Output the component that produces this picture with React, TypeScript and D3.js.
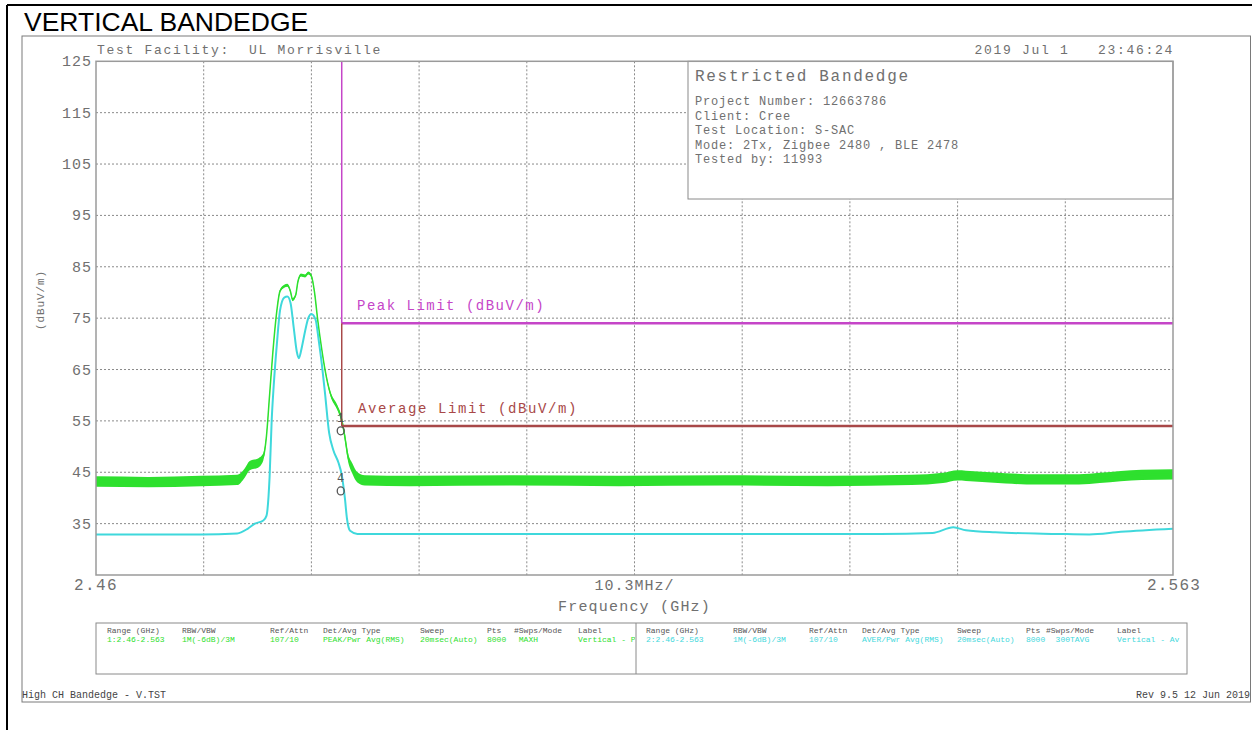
import React from "react";
import * as d3 from "d3";

// ---------- data ----------
const yTicks = [125, 115, 105, 95, 85, 75, 65, 55, 45, 35];
const freqStart = 2.46;
const freqStop = 2.563;
const xDivisions = 10;
const peakLimit = 74;
const avgLimit = 54;
const bandEdge = 2.4835;

// Trace 1 (peak, MAXH): frequency (GHz), level (dBuV/m), noise half-width (dB)
const peakFreqs = [
  2.46, 2.465, 2.47, 2.4735, 2.4742, 2.4747, 2.4755, 2.476, 2.4763, 2.4766, 2.4769,
  2.4773, 2.4776, 2.478, 2.4783, 2.4786, 2.4788, 2.4791, 2.4793, 2.4796, 2.48, 2.4803,
  2.4806, 2.4809, 2.4812, 2.4816, 2.4819, 2.4824, 2.4831, 2.4835, 2.4838, 2.4841, 2.4845,
  2.485, 2.4857, 2.49, 2.5, 2.51, 2.52, 2.53, 2.538, 2.541, 2.5424, 2.544, 2.547, 2.55,
  2.554, 2.556, 2.56, 2.563,
];
const peakLevels = [
  43.2, 43.1, 43.3, 43.5, 44.8, 46.3, 46.8, 48.0, 52.0, 60.0, 68.0,
  76.5, 80.3, 81.2, 81.4, 80.2, 78.6, 79.5, 82.0, 83.4, 83.2, 83.8,
  83.2, 80.0, 74.7, 68.8, 65.0, 60.4, 57.5, 55.2, 51.9, 48.0, 45.8,
  44.0, 43.4, 43.3, 43.4, 43.3, 43.4, 43.3, 43.5, 43.9, 44.4, 44.2, 43.8, 43.6,
  43.6, 43.9, 44.5, 44.6,
];
const peakSpread = [
  1.0, 1.0, 1.0, 1.0, 0.9, 0.9, 0.9, 0.7, 0.3, 0.2, 0.2,
  0.2, 0.3, 0.3, 0.3, 0.3, 0.3, 0.3, 0.3, 0.3, 0.3, 0.3,
  0.3, 0.3, 0.2, 0.2, 0.3, 0.4, 0.5, 0.6, 0.7, 0.8, 1.0,
  1.0, 1.0, 1.0, 1.0, 1.0, 1.0, 1.0, 1.0, 1.0, 1.0, 1.0, 1.0, 1.0,
  1.0, 1.0, 1.0, 1.0,
];

// Trace 2 (average, 300TAVG)
const avgFreqs = [
  2.46, 2.47, 2.4735, 2.4745, 2.4752, 2.476, 2.4763, 2.4766, 2.4768, 2.477, 2.4773,
  2.4776, 2.478, 2.4783, 2.4786, 2.4789, 2.4792, 2.4794, 2.4797, 2.48, 2.4803, 2.4806,
  2.481, 2.4813, 2.4816, 2.4819, 2.4823, 2.4827, 2.4832, 2.4835, 2.4838, 2.484, 2.4843,
  2.485, 2.5, 2.52, 2.535, 2.54, 2.542, 2.5432, 2.546, 2.552, 2.555, 2.558, 2.563,
];
const avgLevels = [
  32.9, 32.9, 33.1, 34.0, 35.0, 35.6, 36.5, 44.0, 55.0, 62.0, 70.0,
  76.5, 79.0, 79.2, 78.0, 73.3, 68.5, 67.2, 69.5, 72.5, 75.0, 75.8,
  74.7, 70.7, 66.0, 60.4, 52.6, 49.3, 46.8, 44.5, 40.0, 36.0, 33.6,
  33.0, 33.0, 33.0, 33.0, 33.2, 34.3, 33.7, 33.3, 33.0, 32.9, 33.4, 34.0,
];

const markerIds = ["1", "4"];

const infoTitle = "Restricted Bandedge";
const infoLines = [
  "Project Number: 12663786",
  "Client: Cree",
  "Test Location: S-SAC",
  "Mode: 2Tx, Zigbee 2480 , BLE 2478",
  "Tested by: 11993",
];

const legendHeaders = ["Range (GHz)", "RBW/VBW", "Ref/Attn", "Det/Avg Type", "Sweep", "Pts", "#Swps/Mode", "Label"];
const legendTrace1 = ["1:2.46-2.563", "1M(-6dB)/3M", "107/10", "PEAK/Pwr Avg(RMS)", "20msec(Auto)", "8000", " MAXH", "Vertical - P"];
const legendTrace2 = ["2:2.46-2.563", "1M(-6dB)/3M", "107/10", "AVER/Pwr Avg(RMS)", "20msec(Auto)", "8000", "  300TAVG", "Vertical - Av"];

// ---------- layout ----------
const W = 1252;
const H = 730;
const plot = { left: 96, right: 1173, top: 61.3, bottom: 575 };
const legendCols1 = [107, 182, 270, 323, 420, 487, 514, 578];
const legendCols2 = [646, 733, 809, 862, 957, 1026, 1046, 1117];

const GREEN = "#2ee02e";
const CYAN = "#3fd8dc";
const MAGENTA = "#c545c8";
const BROWN = "#a84848";
const TXT = "#707070";
const MONO = "'Liberation Mono', 'DejaVu Sans Mono', monospace";

export default function App() {
  const x = d3.scaleLinear().domain([freqStart, freqStop]).range([plot.left, plot.right]);
  const y = d3.scaleLinear().domain([25, 125]).range([plot.bottom, plot.top]);

  const peakData = peakFreqs.map((f, i) => ({ f, v: peakLevels[i], s: peakSpread[i] }));
  const avgData = avgFreqs.map((f, i) => ({ f, v: avgLevels[i] }));

  const peakArea = d3
    .area<{ f: number; v: number; s: number }>()
    .x((d) => x(d.f))
    .y0((d) => y(d.v - d.s))
    .y1((d) => y(d.v + d.s))
    .curve(d3.curveMonotoneX);
  const peakLine = d3
    .line<{ f: number; v: number; s: number }>()
    .x((d) => x(d.f))
    .y((d) => y(d.v))
    .curve(d3.curveMonotoneX);
  const avgLine = d3
    .line<{ f: number; v: number }>()
    .x((d) => x(d.f))
    .y((d) => y(d.v))
    .curve(d3.curveMonotoneX);

  const step = (freqStop - freqStart) / xDivisions;
  const vGrid = d3.range(1, xDivisions).map((i) => freqStart + i * step);
  const hGrid = yTicks.filter((t) => t !== 125);

  const xe = x(bandEdge);
  const peakAtEdge = peakLevels[peakFreqs.indexOf(bandEdge)];
  const avgAtEdge = avgLevels[avgFreqs.indexOf(bandEdge)] - 1;
  const markerVals = [peakAtEdge, avgAtEdge];

  return (
    <svg
      width={W}
      height={H}
      style={{ position: "absolute", left: 0, top: 0, background: "#fff" }}
      fontFamily={MONO}
    >
      <rect x={0} y={0} width={W} height={H} fill="#fff" />
      {/* outer black frame */}
      <line x1={7} y1={5} x2={W} y2={5} stroke="#000" strokeWidth={2} />
      <line x1={7} y1={5} x2={7} y2={H} stroke="#000" strokeWidth={2} />
      <text x={24} y={31} fontFamily="'Liberation Sans', Arial, sans-serif" fontSize={26.5} fill="#000">
        VERTICAL BANDEDGE
      </text>
      {/* inner frame */}
      <rect x={22} y={36} width={1228.5} height={666} fill="none" stroke="#7a7a7a" strokeWidth={1} />

      {/* grid */}
      {hGrid.map((t) => (
        <line key={"h" + t} x1={plot.left} x2={plot.right} y1={y(t)} y2={y(t)} stroke="#8a8a8a" strokeWidth={1} strokeDasharray="2,2" />
      ))}
      {vGrid.map((f, i) => (
        <line key={"v" + i} x1={x(f)} x2={x(f)} y1={plot.top} y2={plot.bottom} stroke="#8a8a8a" strokeWidth={1} strokeDasharray="2,2" />
      ))}

      {/* info box */}
      <rect x={688} y={plot.top} width={plot.right - 688} height={199 - plot.top} fill="#fff" stroke="#8a8a8a" strokeWidth={1} />
      <text x={695} y={81} fontSize={16} letterSpacing={1.7} fill={TXT}>
        {infoTitle}
      </text>
      {infoLines.map((l, i) => (
        <text key={l} x={695} y={105 + i * 14.5} fontSize={12} letterSpacing={0.8} fill={TXT} style={{ whiteSpace: "pre" }}>
          {l}
        </text>
      ))}

      {/* traces */}
      <path d={peakArea(peakData) || ""} fill={GREEN} stroke="none" />
      <path d={peakLine(peakData) || ""} fill="none" stroke={GREEN} strokeWidth={1.5} />
      <path d={avgLine(avgData) || ""} fill="none" stroke={CYAN} strokeWidth={2} />

      {/* limits */}
      <line x1={xe} x2={xe} y1={plot.top} y2={y(peakLimit)} stroke={MAGENTA} strokeWidth={1.5} />
      <line x1={xe} x2={plot.right} y1={y(peakLimit)} y2={y(peakLimit)} stroke={MAGENTA} strokeWidth={2.5} />
      <line x1={xe} x2={xe} y1={y(peakLimit)} y2={y(avgLimit)} stroke={BROWN} strokeWidth={1.5} />
      <line x1={xe} x2={plot.right} y1={y(avgLimit)} y2={y(avgLimit)} stroke={BROWN} strokeWidth={2.5} />
      <text x={357} y={310} fontSize={14} letterSpacing={1.5} fill={MAGENTA}>
        Peak Limit (dBuV/m)
      </text>
      <text x={358} y={413} fontSize={14} letterSpacing={1.6} fill={BROWN}>
        Average Limit (dBuV/m)
      </text>

      {/* markers */}
      {markerIds.map((m, i) => (
        <g key={m}>
          <text x={xe - 1} y={y(markerVals[i]) + 2} fontSize={12} textAnchor="middle" fill="#555">
            {m}
          </text>
          <ellipse cx={xe - 1} cy={y(markerVals[i]) + 11} rx={3.5} ry={4} fill="none" stroke="#555" strokeWidth={1.3} />
        </g>
      ))}

      {/* plot frame */}
      <rect x={plot.left} y={plot.top} width={plot.right - plot.left} height={plot.bottom - plot.top} fill="none" stroke="#9a9a9a" strokeWidth={1.5} />

      {/* y ticks */}
      {yTicks.map((t) => (
        <text key={"yt" + t} x={92} y={y(t) + 5} fontSize={15} letterSpacing={1} textAnchor="end" fill={TXT}>
          {t}
        </text>
      ))}
      <text transform="translate(44,300) rotate(-90)" fontSize={11} letterSpacing={0.9} textAnchor="middle" fill={TXT}>
        (dBuV/m)
      </text>

      {/* header */}
      <text x={97} y={54} fontSize={13} letterSpacing={1.7} fill={TXT} style={{ whiteSpace: "pre" }}>
        {"Test Facility:  UL Morrisville"}
      </text>
      <text x={1174} y={54} fontSize={13} letterSpacing={1.7} textAnchor="end" fill={TXT} style={{ whiteSpace: "pre" }}>
        {"2019 Jul 1   23:46:24"}
      </text>

      {/* x labels */}
      <text x={plot.left} y={590} fontSize={16} letterSpacing={1.4} textAnchor="middle" fill={TXT}>
        {String(freqStart)}
      </text>
      <text x={plot.right + 1} y={590} fontSize={16} letterSpacing={1.2} textAnchor="middle" fill={TXT}>
        {String(freqStop)}
      </text>
      <text x={(plot.left + plot.right) / 2} y={590} fontSize={15} letterSpacing={1} textAnchor="middle" fill={TXT}>
        {(step * 1000).toFixed(1) + "MHz/"}
      </text>
      <text x={(plot.left + plot.right) / 2} y={611} fontSize={15} letterSpacing={1.2} textAnchor="middle" fill={TXT}>
        Frequency (GHz)
      </text>

      {/* legend table */}
      <rect x={96} y={623} width={1091} height={51} fill="none" stroke="#8a8a8a" strokeWidth={1} />
      <line x1={636} x2={636} y1={623} y2={674} stroke="#8a8a8a" strokeWidth={1} />
      <clipPath id="legClip1">
        <rect x={96} y={623} width={539} height={51} />
      </clipPath>
      <g clipPath="url(#legClip1)">
        {legendHeaders.map((h, i) => (
          <text key={"lh1" + i} x={legendCols1[i]} y={633} fontSize={8} fill="#555" style={{ whiteSpace: "pre" }}>
            {h}
          </text>
        ))}
        {legendTrace1.map((h, i) => (
          <text key={"lt1" + i} x={legendCols1[i]} y={642} fontSize={8} fill={GREEN} style={{ whiteSpace: "pre" }}>
            {h}
          </text>
        ))}
      </g>
      {legendHeaders.map((h, i) => (
        <text key={"lh2" + i} x={legendCols2[i]} y={633} fontSize={8} fill="#555" style={{ whiteSpace: "pre" }}>
          {h}
        </text>
      ))}
      {legendTrace2.map((h, i) => (
        <text key={"lt2" + i} x={legendCols2[i]} y={642} fontSize={8} fill={CYAN} style={{ whiteSpace: "pre" }}>
          {h}
        </text>
      ))}

      {/* footer */}
      <text x={22} y={698} fontSize={10} fill="#444">
        High CH Bandedge - V.TST
      </text>
      <text x={1250} y={698} fontSize={10} textAnchor="end" fill="#444">
        Rev 9.5 12 Jun 2019
      </text>
    </svg>
  );
}
